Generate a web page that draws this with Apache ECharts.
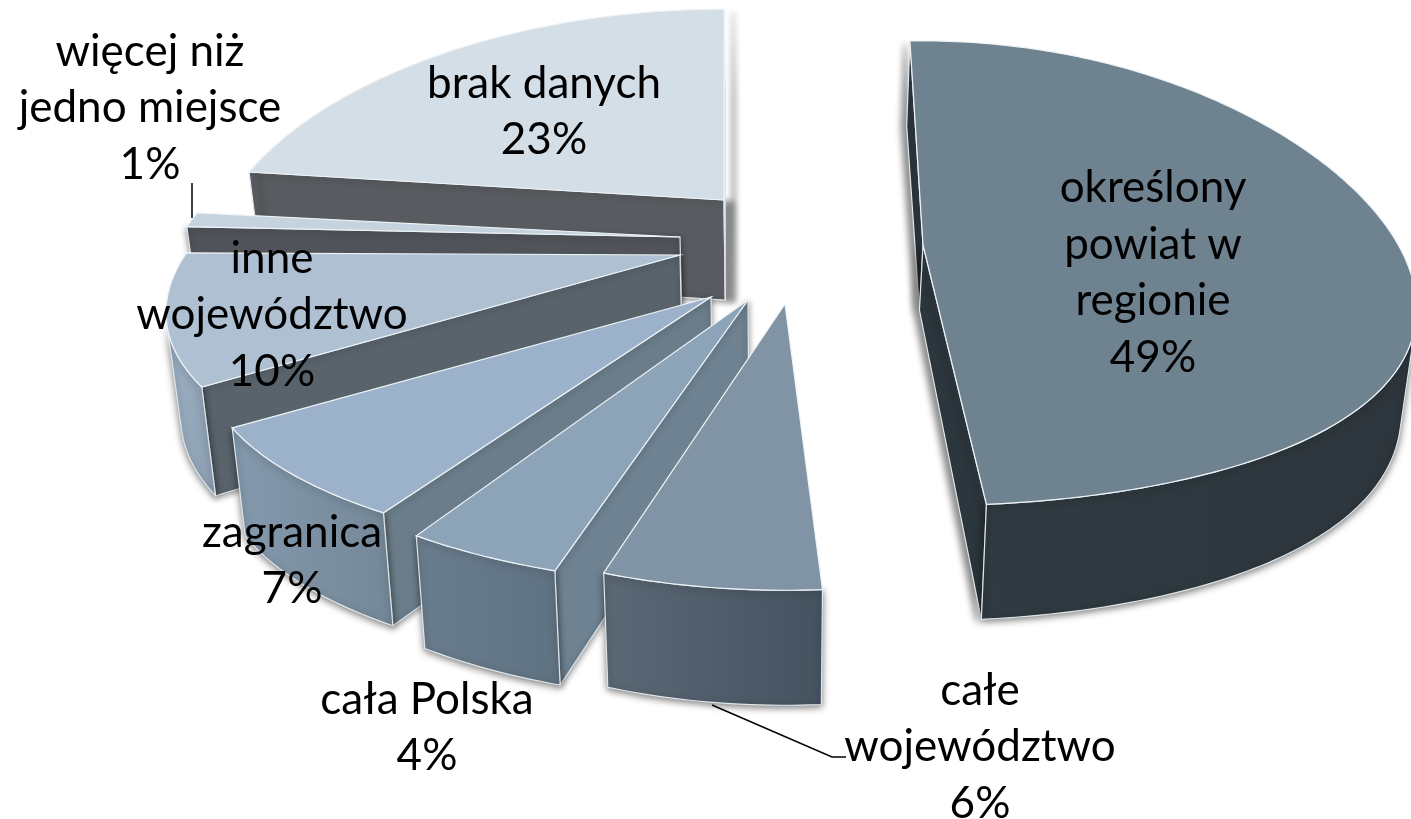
<!DOCTYPE html>
<html>
<head>
<meta charset="utf-8">
<script src="https://cdn.jsdelivr.net/npm/echarts@6/dist/echarts.min.js"></script>
<style>
html, body { margin: 0; height: 100%; background: #fff; }
#main { width: 1411px; height: 819px; }
</style>
</head>
<body>
<div id="main"></div>
<script>
// dane
var categories = ['określony\npowiat w\nregionie', 'całe\nwojewództwo', 'cała Polska', 'zagranica', 'inne\nwojewództwo', 'więcej niż\njedno miejsce', 'brak danych'];
var values = [49, 6, 4, 7, 10, 1, 23];

// wyglad: kolory
var topColors = ['#6e8290', '#8094a5', '#8da4b8', '#9bb2ca', '#aec0d2', '#c5d3de', '#d3dee7'];
var arcColors = [['#2f3a41', '#2d363c'], ['#5b6875', '#455360'], ['#6a7d8e', '#5f7282'], ['#8499ad', '#748898'], ['#9db1c4', '#8c9fb2'], ['#50545a', '#50545a'], ['#585c60', '#585c60']];
var cutColors = ['#2c363d', '#6e8191', '#6e8292', '#6b7d8a', '#58636c', '#50545a', '#585c60'];

// wyglad: wysuniecie wycinkow wzgledem srodka kola i polozenie podpisow
var pieCenter = [720, 290];
var explode = [[203, -45], [65, 14], [28, 10], [-9, 7], [-40, -35], [-40, -53], [4, -90]];
var sliceTurn = [-1, 1, 0, -0.5, -2, 0, 1];
var sliceScaleX = [0.97, 0.89, 1, 1, 1.01, 1.02, 1.01];
var sliceScaleY = [1, 1, 1, 0.91, 0.88, 1, 1];
var apexDepth = [0.65, 1, 1, 1, 1, 1, 1];
var wallShadowX = [-5, 0, 0, 0, 0, 0, 9];
var labelPos = [[1153, 273], [980, 747], [427, 728], [292, 561], [272, 315], [150, 108], [544, 112]];
var radiusX = 490, radiusY = 229, persX = 0.27, persY = 0.2;
var pers49 = 0.122;
var depth = 100, vanishX = 775, vanishK = 0.024;
var startAngle = -1;

var total = values.reduce(function (a, b) { return a + b; }, 0);

function project(i, deg) {
    var t = deg * Math.PI / 180;
    var u = Math.sin(t), v = -Math.cos(t);
    var ky = i === 0 ? pers49 : persY;
    return [
        pieCenter[0] + explode[i][0] + sliceScaleX[i] * radiusX * u / (1 - persX * v),
        pieCenter[1] + explode[i][1] + sliceScaleY[i] * radiusY * v / (1 - ky * v),
        v
    ];
}

// p[3] to ewentualny mnoznik glebokosci (tylko wierzcholek wycinka)
function lower(p) {
    var v = p[2] || 0;
    return [p[0] + (vanishX - p[0]) * vanishK, p[1] + (p[3] || 1) * depth * (1 + 0.15 * v)];
}

function faces(a, b) {
    var o = lower(a);
    var ox = o[0] - a[0], oy = o[1] - a[1];
    return (b[0] - a[0]) * oy - (b[1] - a[1]) * ox < 0;
}

function poly(points, fill, stroke, extra) {
    var style = { fill: fill, stroke: stroke || fill, lineWidth: stroke ? 1.2 : 0.5 };
    for (var k in extra) style[k] = extra[k];
    return { type: 'polygon', shape: { points: points }, style: style };
}

function renderSlice(params, api) {
    var i = api.value(0);
    var before = 0;
    for (var n = 0; n < i; n++) before += values[n];
    var a0 = startAngle + sliceTurn[i] + before / total * 360;
    var a1 = a0 + api.value(1) / total * 360;

    var apex = [pieCenter[0] + explode[i][0], pieCenter[1] + explode[i][1], 0, apexDepth[i]];
    var arc = [];
    for (var d = a0; d < a1; d += 1) arc.push(project(i, d));
    arc.push(project(i, a1));

    var children = [];

    // sciany od ciecia
    [[apex, arc[0]], [arc[arc.length - 1], apex]].forEach(function (e) {
        if (faces(e[0], e[1])) {
            children.push(poly([e[0], e[1], lower(e[1]), lower(e[0])], cutColors[i], '#dfe6ea', {
                shadowBlur: 6, shadowColor: 'rgba(0,0,0,0.45)', shadowOffsetY: 2, shadowOffsetX: wallShadowX[i]
            }));
        }
    });

    // sciana zewnetrzna, tylko widoczne odcinki luku
    var run = [];
    function flush() {
        if (run.length > 1) {
            var pts = run.concat(run.slice().reverse().map(lower));
            var fill = new echarts.graphic.LinearGradient(0, 0, 1, 0, [
                { offset: 0, color: arcColors[i][0] },
                { offset: 1, color: arcColors[i][1] }
            ]);
            children.push(poly(pts, fill, '#dfe6ea', {
                shadowBlur: 7, shadowColor: 'rgba(0,0,0,0.5)', shadowOffsetY: 2
            }));
        }
        run = [];
    }
    for (var s = 0; s < arc.length - 1; s++) {
        if (faces(arc[s], arc[s + 1])) {
            if (!run.length) run.push(arc[s]);
            run.push(arc[s + 1]);
        } else {
            flush();
        }
    }
    flush();

    // gorna powierzchnia
    children.push(poly([apex].concat(arc), topColors[i], '#eef3f6'));
    return { type: 'group', children: children };
}

var labelPct = values.map(function (v) { return v + '%'; });

var chart = echarts.init(document.getElementById('main'));
chart.setOption({
    backgroundColor: '#fff',
    animation: false,
    series: [{
        type: 'custom',
        coordinateSystem: 'none',
        silent: true,
        renderItem: renderSlice,
        // od tylu do przodu
        data: values.map(function (v, i) { return [i, v]; }).reverse()
    }],
    graphic: categories.map(function (c, i) {
        return {
            type: 'text',
            x: labelPos[i][0],
            y: labelPos[i][1],
            z: 100,
            silent: true,
            style: {
                text: c + '\n' + labelPct[i],
                fill: '#000',
                font: '44px Lato',
                lineHeight: 56.5,
                align: 'center',
                verticalAlign: 'middle'
            }
        };
    }).concat([
        { type: 'polyline', z: 90, silent: true, shape: { points: [[192, 183], [192, 218]] }, style: { stroke: '#000', lineWidth: 1.5, fill: null } },
        { type: 'polyline', z: 90, silent: true, shape: { points: [[712, 705], [832, 757], [846, 757]] }, style: { stroke: '#000', lineWidth: 1.5, fill: null } }
    ])
});
</script>
</body>
</html>
